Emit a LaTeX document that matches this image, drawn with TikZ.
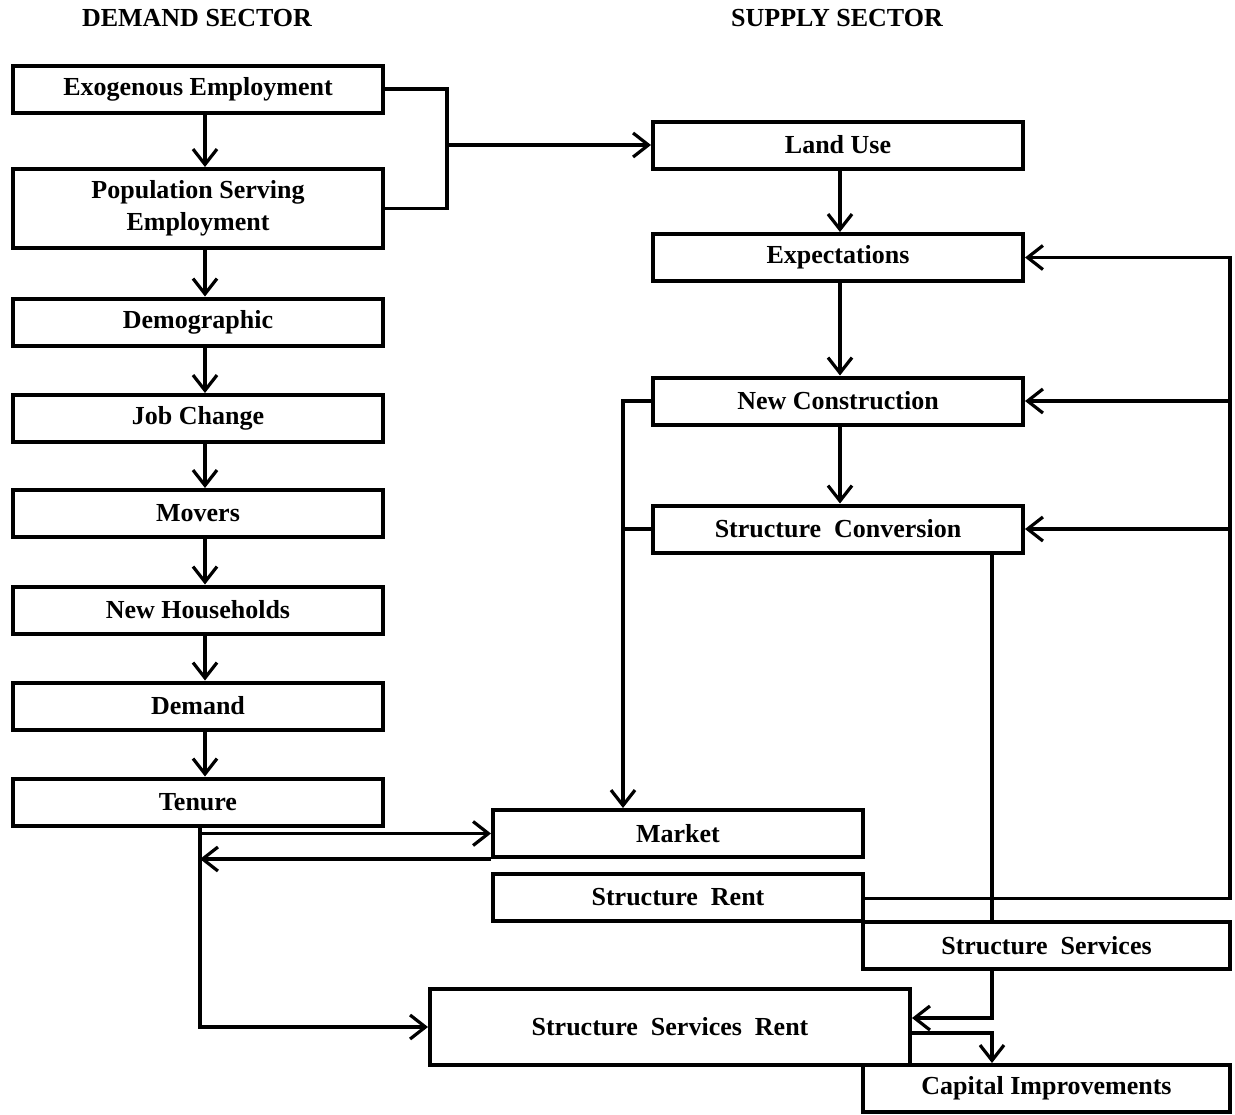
\documentclass[tikz,border=0pt]{standalone}
\usepackage{fontspec}
\setmainfont{Liberation Serif}
\usetikzlibrary{arrows.meta}
\begin{document}
\begin{tikzpicture}[x=0.75pt,y=-0.75pt,
  box/.style={draw, line width=3pt, inner sep=0pt, align=center,
    font=\fontsize{19.5}{24}\selectfont\bfseries, minimum width=277.5pt, minimum height=35.25pt},
  hdr/.style={font=\fontsize{19.5}{24}\selectfont\bfseries, inner sep=0pt},
  conn/.style={line width=2.4pt},
  arr/.style={conn, -{Straight Barb[length=11.5pt,width=18pt,line width=2.4pt]}}]
\useasboundingbox (0,0) rectangle (1235,1114);
% headers
\node[hdr] (hd) at (197,18) {DEMAND SECTOR};
\node[hdr] (hs) at (837,18) {SUPPLY SECTOR};
% demand column
\node[box] (exo) at (198,89) {Exogenous Employment};
\node[box, minimum height=59.25pt] (pop) at (198,208.5) {Population Serving\\Employment};
\node[box] (demo) at (198,322) {Demographic};
\node[box] (job) at (198,418.5) {Job Change};
\node[box] (movers) at (198,513.5) {Movers};
\node[box] (newhh) at (198,610) {New Households};
\node[box] (demand) at (198,706) {Demand};
\node[box] (tenure) at (198,802) {Tenure};
% supply column
\node[box] (land) at (838,145) {Land Use};
\node[box] (expect) at (838,257.5) {Expectations};
\node[box] (newcon) at (838,401) {New Construction};
\node[box] (conv) at (838,529) {Structure\ \ Conversion};
\node[box] (market) at (678,833.5) {Market};
\node[box] (rent) at (678,897.5) {Structure\ \ Rent};
\node[box, minimum width=275.25pt] (services) at (1046.5,945.5) {Structure\ \ Services};
\node[box, minimum width=360pt, minimum height=57pt] (ssr) at (670,1027) {Structure\ \ Services\ \ Rent};
\node[box, minimum width=275.25pt] (capital) at (1046.5,1088.5) {Capital Improvements};
% helper coordinates
\coordinate (lx) at (205,0);
\coordinate (rx) at (840,0);
\coordinate (bx) at (447,145);
\coordinate (fx) at (1230,0);
\coordinate (mx) at (623,0);
\coordinate (cx) at (992,0);
\coordinate (tx) at (200,0);
% demand chain
\draw[arr] (exo.south -| lx) -- (pop.north -| lx);
\draw[arr] (pop.south -| lx) -- (demo.north -| lx);
\draw[arr] (demo.south -| lx) -- (job.north -| lx);
\draw[arr] (job.south -| lx) -- (movers.north -| lx);
\draw[arr] (movers.south -| lx) -- (newhh.north -| lx);
\draw[arr] (newhh.south -| lx) -- (demand.north -| lx);
\draw[arr] (demand.south -| lx) -- (tenure.north -| lx);
% bracket to land use
\draw[conn] (exo.east) -| (bx) |- (pop.east);
\draw[arr] (bx) -- (land.west);
% supply chain
\draw[arr] (land.south -| rx) -- (expect.north -| rx);
\draw[arr] (expect.south -| rx) -- (newcon.north -| rx);
\draw[arr] (newcon.south -| rx) -- (conv.north -| rx);
% feedback from structure rent
\draw[arr] ([yshift=-1pt]rent.east) -| (fx |- expect.east) -- (expect.east);
\draw[arr] (fx |- newcon.east) -- (newcon.east);
\draw[arr] (fx |- conv.east) -- (conv.east);
% to market
\draw[arr] (newcon.west) -| (market.north -| mx);
\draw[conn] (conv.west) -- (conv.west -| mx);
% conversion to services
\draw[conn] (conv.south -| cx) -- (services.north -| cx);
\draw[arr] (services.south -| cx) |- ([yshift=6.75pt]ssr.east);
\draw[arr] ([yshift=-4.5pt]ssr.east) -| (capital.north -| cx);
% tenure
\draw[arr] (tenure.south -| tx) |- (ssr.west);
\draw[arr] (tx |- market.west) -- (market.west);
\draw[arr] (market.south west) -- (market.south west -| tx);
\end{tikzpicture}
\end{document}
